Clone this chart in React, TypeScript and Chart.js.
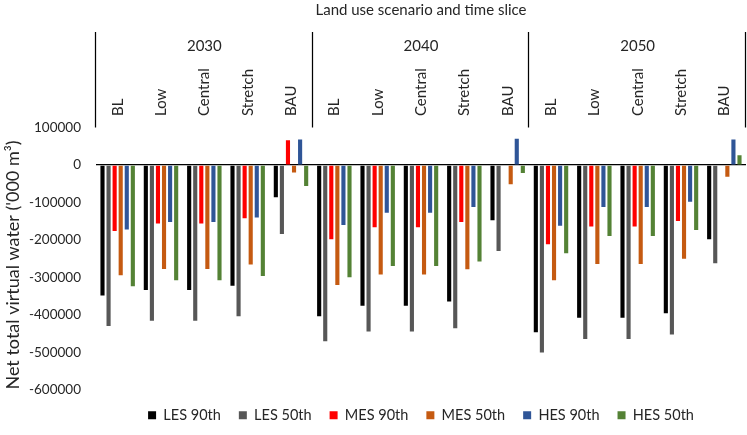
import React, { useEffect, useRef } from "react";
import { Chart, registerables } from "chart.js";

Chart.register(...registerables);

// ---- data ----
const years = ["2030", "2040", "2050"];
const scenarios = ["BL", "Low", "Central", "Stretch", "BAU"];
const categories = years.flatMap((y) => scenarios.map((s) => `${y} ${s}`));

const seriesNames = ["LES 90th", "LES 50th", "MES 90th", "MES 50th", "HES 90th", "HES 50th"];
const seriesColors = ["#000000", "#575757", "#FF0000", "#C55A11", "#2F5597", "#548235"];

const les90 = [-348000, -333000, -333000, -322000, -86000, -403000, -375000, -375000, -364000, -147000, -446000, -407000, -407000, -395000, -198000];
const les50 = [-429000, -415000, -415000, -403000, -184000, -470000, -444000, -444000, -435000, -229000, -500000, -464000, -464000, -452000, -262000];
const mes90 = [-176000, -156000, -156000, -142000, 66000, -198000, -166000, -166000, -152000, 0, -211000, -164000, -164000, -149000, 0];
const mes50 = [-294000, -277000, -277000, -265000, -20000, -320000, -292000, -292000, -278000, -51000, -307000, -264000, -264000, -250000, -31000];
const hes90 = [-172000, -152000, -152000, -140000, 68000, -160000, -127000, -127000, -112000, 70000, -162000, -112000, -112000, -98000, 68000];
const hes50 = [-323000, -307000, -307000, -296000, -56000, -299000, -269000, -269000, -257000, -21000, -235000, -189000, -189000, -173000, 26000];

const yMin = -600000;
const yMax = 100000;
const yStep = 100000;

const chartTitle = "Land use scenario and time slice";
const yTitle = "Net total virtual water ('000 m\u00B3)";

const FONT = "Lato";
const TEXT = "#262626";

const topLabelsPlugin = {
  id: "topLabels",
  afterDraw(chart: any) {
    const ctx = chart.ctx;
    const x = chart.scales.x;
    const area = chart.chartArea;
    ctx.save();
    ctx.fillStyle = TEXT;
    // title
    ctx.font = `15px ${FONT}`;
    ctx.textAlign = "center";
    ctx.textBaseline = "middle";
    ctx.fillText(chartTitle, (area.left + area.right) / 2, 10);
    // year labels
    ctx.font = `15px ${FONT}`;
    years.forEach((yr, g) => {
      const cx = x.getPixelForValue(g * scenarios.length + (scenarios.length - 1) / 2);
      ctx.fillText(yr, cx, 46);
    });
    // scenario labels (rotated)
    ctx.font = `15px ${FONT}`;
    categories.forEach((_, i) => {
      const s = scenarios[i % scenarios.length];
      const cx = x.getPixelForValue(i);
      ctx.save();
      ctx.translate(cx, 116);
      ctx.rotate(-Math.PI / 2);
      ctx.textAlign = "left";
      ctx.textBaseline = "middle";
      ctx.fillText(s, 0, 0);
      ctx.restore();
    });
    // group dividers
    ctx.strokeStyle = "#000";
    ctx.lineWidth = 1.25;
    for (let g = 0; g <= years.length; g++) {
      const px = Math.round(x.getPixelForValue(g * scenarios.length - 0.5)) - 0.5;
      ctx.beginPath();
      ctx.moveTo(px, 32);
      ctx.lineTo(px, area.top);
      ctx.stroke();
    }
    // y title
    ctx.font = `18px ${FONT}`;
    ctx.translate(13, 265);
    ctx.rotate(-Math.PI / 2);
    ctx.textAlign = "center";
    ctx.textBaseline = "middle";
    ctx.fillText(yTitle, 0, 0);
    ctx.restore();
  },
};

export default function App() {
  const ref = useRef<HTMLCanvasElement>(null);
  useEffect(() => {
    if (!ref.current) return;
    const seriesData = [les90, les50, mes90, mes50, hes90, hes50];
    const chart = new Chart(ref.current, {
      type: "bar",
      data: {
        labels: categories,
        datasets: seriesNames.map((name, i) => ({
          label: name,
          data: seriesData[i],
          backgroundColor: seriesColors[i],
          borderWidth: 0,
          categoryPercentage: 0.84,
          barPercentage: 0.68,
        })),
      },
      options: {
        animation: false,
        responsive: false,
        layout: { padding: { top: 127.5, right: 1, left: 0, bottom: 2.5 } },
        plugins: {
          title: { display: false },
          tooltip: { enabled: false },
          legend: {
            position: "bottom",
            fullSize: false,
            labels: {
              boxWidth: 8,
              boxHeight: 8,
              padding: 18,
              color: TEXT,
              font: { family: FONT, size: 14.5 },
            },
          },
        },
        scales: {
          x: { display: false },
          y: {
            min: yMin,
            max: yMax,
            z: 1,
            afterFit: (s: any) => {
              s.width = 96;
            },
            ticks: {
              stepSize: yStep,
              padding: 15,
              color: TEXT,
              font: { family: FONT, size: 13.5 },
              callback: (v: any) => String(v),
            },
            border: { display: false },
            grid: {
              drawTicks: false,
              lineWidth: 1.25,
              color: (c: any) => (c.tick && c.tick.value === 0 ? "#000" : "rgba(0,0,0,0)"),
            },
          },
        },
      },
      plugins: [topLabelsPlugin],
    });
    return () => chart.destroy();
  }, []);
  return (
    <div style={{ position: "absolute", left: 0, top: 0, width: 747, height: 435, background: "#fff" }}>
      <canvas ref={ref} width={747} height={435} />
    </div>
  );
}
